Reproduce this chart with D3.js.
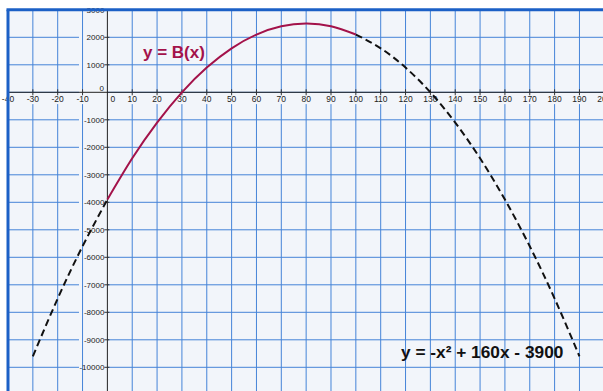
<!DOCTYPE html>
<html>
<head>
<meta charset="utf-8">
<script src="https://cdn.jsdelivr.net/npm/d3@7"></script>
<style>
  body { margin: 0; background: #ffffff; }
  svg { display: block; font-family: "Liberation Sans", Arial, sans-serif; }
</style>
</head>
<body>
<div id="chart"></div>
<script>
//Set Dimensions

var xSize = 603; var ySize = 391;

const xLeft = [-30, -20, -10, 0];
const yLeft = [-9600, -7500, -5600, -3900];

const xMid = [0, 10, 20, 30, 40, 50, 60, 70, 80, 90, 100];
const yMid = [-3900, -2400, -1100, 0, 900, 1600, 2100, 2400, 2500, 2400, 2100];

const xRight = [100, 110, 120, 130, 140, 150, 160, 170, 180, 190];
const yRight = [2100, 1600, 900, 0, -1100, -2400, -3900, -5600, -7500, -9600];

const xTicks = [-40, -30, -20, -10, 0, 10, 20, 30, 40, 50, 60, 70, 80, 90, 100, 110, 120, 130, 140, 150, 160, 170, 180, 190, 200];
const yTicks = [3000, 2000, 1000, 0, -1000, -2000, -3000, -4000, -5000, -6000, -7000, -8000, -9000, -10000];

const curveLabel = "y = B(x)";
const eqLabel = "y = -x\u00b2 + 160x - 3900";

//Colours

const gridColor = "#4584d8";
const borderColor = "#1c60c6";
const bgColor = "#f2f5fa";
const curveColor = "#a3124a";

//Scales

const x = d3.scaleLinear()
  .domain([-40, 200])
  .range([8, 604.3]);

const y = d3.scaleLinear()
  .domain([3000, -10000])
  .range([9.8, 367.3]);

//Append SVG

const svg = d3.select("#chart")
  .append("svg")
  .attr("width", xSize)
  .attr("height", ySize);

//Plot background

svg.append("rect")
  .attr("x", x(-40))
  .attr("y", y(3000))
  .attr("width", xSize - x(-40))
  .attr("height", ySize - y(3000))
  .attr("fill", bgColor);

//Horizontal grid lines

svg.append("g")
  .selectAll("line")
  .data(yTicks)
  .join("line")
  .attr("x1", x(-40))
  .attr("x2", xSize)
  .attr("y1", d => y(d))
  .attr("y2", d => y(d))
  .attr("stroke", gridColor)
  .attr("stroke-width", 1);

//Column behind the y labels

svg.append("rect")
  .attr("x", 79)
  .attr("y", y(3000))
  .attr("width", x(0) - 79)
  .attr("height", ySize - y(3000))
  .attr("fill", bgColor);

//Vertical grid lines

svg.append("g")
  .selectAll("line")
  .data(xTicks.filter(d => d !== 0))
  .join("line")
  .attr("x1", d => x(d))
  .attr("x2", d => x(d))
  .attr("y1", y(3000))
  .attr("y2", ySize)
  .attr("stroke", gridColor)
  .attr("stroke-width", 1);

//Row behind the x labels

svg.append("rect")
  .attr("x", x(-40))
  .attr("y", y(0) + 0.8)
  .attr("width", xSize - x(-40))
  .attr("height", 11)
  .attr("fill", bgColor);

//Axes

svg.append("line")
  .attr("x1", x(-40)).attr("x2", xSize)
  .attr("y1", y(0)).attr("y2", y(0))
  .attr("stroke", "#222").attr("stroke-width", 1);

svg.append("line")
  .attr("x1", x(0)).attr("x2", x(0))
  .attr("y1", y(3000)).attr("y2", ySize)
  .attr("stroke", "#222").attr("stroke-width", 1);

//x ticks and labels

const xg = svg.append("g");

xg.selectAll("line")
  .data(xTicks.filter(d => d !== 0))
  .join("line")
  .attr("x1", d => x(d)).attr("x2", d => x(d))
  .attr("y1", y(0) - 3).attr("y2", y(0) + 3)
  .attr("stroke", "#333");

xg.selectAll("text")
  .data(xTicks)
  .join("text")
  .attr("x", d => d === 0 ? x(d) + 5.5 : x(d))
  .attr("y", y(0) + 10)
  .attr("text-anchor", "middle")
  .attr("font-size", 8.5)
  .attr("fill", "#222")
  .text(d => d);

//y ticks and labels

const yg = svg.append("g");

yg.selectAll("line")
  .data(yTicks.filter(d => d !== 0))
  .join("line")
  .attr("x1", x(0) - 3).attr("x2", x(0) + 2)
  .attr("y1", d => y(d)).attr("y2", d => y(d))
  .attr("stroke", "#333");

yg.selectAll("text")
  .data(yTicks)
  .join("text")
  .attr("x", d => d === 0 ? x(0) - 3.5 : x(0) - 3)
  .attr("y", d => d === 0 ? y(0) - 1.5 : y(d) + 3)
  .attr("text-anchor", "end")
  .attr("font-size", 8)
  .attr("fill", "#222")
  .text(d => d);

//Curve

const line = d3.line()
  .x(d => x(d[0]))
  .y(d => y(d[1]))
  .curve(d3.curveNatural);

svg.append("path")
  .datum(d3.zip(xLeft, yLeft))
  .attr("fill", "none")
  .attr("stroke", "#111")
  .attr("stroke-width", 2)
  .attr("stroke-dasharray", "7,4")
  .attr("d", line);

svg.append("path")
  .datum(d3.zip(xRight, yRight))
  .attr("fill", "none")
  .attr("stroke", "#111")
  .attr("stroke-width", 2)
  .attr("stroke-dasharray", "7,4")
  .attr("d", line);

svg.append("path")
  .datum(d3.zip(xMid, yMid))
  .attr("fill", "none")
  .attr("stroke", curveColor)
  .attr("stroke-width", 2)
  .attr("d", line);

//Labels

svg.append("text")
  .attr("x", 143)
  .attr("y", 57.5)
  .attr("font-size", 17)
  .attr("font-weight", "bold")
  .attr("fill", curveColor)
  .text(curveLabel);

svg.append("text")
  .attr("x", 401)
  .attr("y", 358)
  .attr("font-size", 17.3)
  .attr("font-weight", "bold")
  .attr("fill", "#111")
  .text(eqLabel);

//Top and left border

svg.append("line")
  .attr("x1", x(-40) - 1.5).attr("x2", xSize)
  .attr("y1", y(3000)).attr("y2", y(3000))
  .attr("stroke", borderColor).attr("stroke-width", 3);

svg.append("line")
  .attr("x1", x(-40)).attr("x2", x(-40))
  .attr("y1", y(3000)).attr("y2", ySize)
  .attr("stroke", borderColor).attr("stroke-width", 3);
</script>
</body>
</html>
